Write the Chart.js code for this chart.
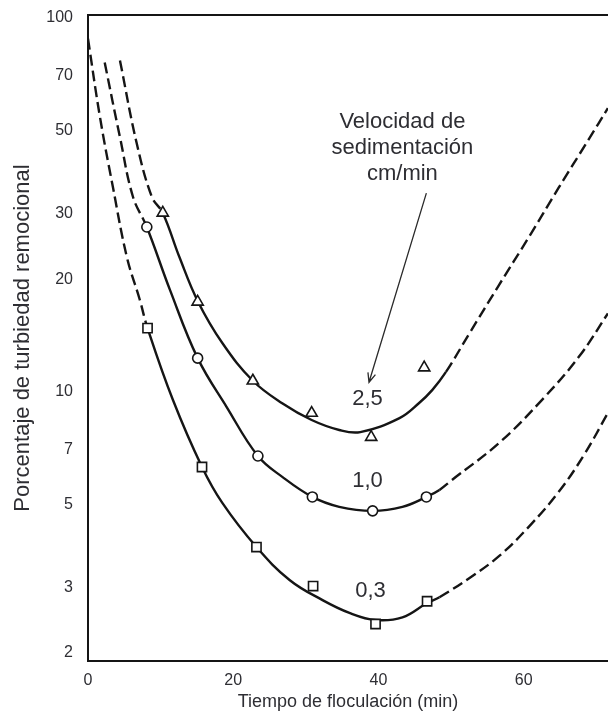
<!DOCTYPE html>
<html>
<head>
<meta charset="utf-8">
<script src="https://cdn.jsdelivr.net/npm/chart.js@4.4.0/dist/chart.umd.min.js"></script>
<style>
  html, body { margin: 0; padding: 0; background: #fff; overflow: hidden; }
  #wrap { width: 616px; height: 714px; }
</style>
</head>
<body>
<div id="wrap"><canvas id="floc" width="616" height="714"></canvas></div>
<script>
// Labels and ticks
const speedLabels = ['2,5', '1,0', '0,3'];
const noteLines = ['Velocidad de', 'sedimentación', 'cm/min'];
const xTickValues = [0, 20, 40, 60];
const yTickValues = [2, 3, 5, 7, 10, 20, 30, 50, 70, 100];

// Fitted curves (time in min, % turbidity)
const curve25X = [4.4, 6.7, 8.8, 10.3, 12.6, 15.1, 18.5, 22.7, 26.8, 30.8, 34.6, 37.5, 42.9, 45.6, 47.4, 49.3, 52.5, 56.6, 60.7, 64.8, 69.0, 71.6, 72.5];
const curve25Y = [77, 46.3, 33.2, 30.1, 22.9, 17.5, 13.5, 10.7, 9.3, 8.4, 7.9, 7.8, 8.5, 9.33, 10.1, 11.3, 14.3, 19.3, 25.9, 35.1, 47.5, 57.4, 61.2];
const curve10X = [2.3, 4.4, 6.2, 8.1, 11.3, 15.1, 19.1, 23.4, 26.8, 30.9, 34.6, 39.2, 43.3, 46.6, 48.4, 50.1, 56.6, 62.5, 67.6, 71.6, 72.5];
const curve10Y = [76, 48, 33.2, 27.6, 18.7, 12.3, 9.1, 6.73, 5.91, 5.23, 4.92, 4.80, 4.92, 5.23, 5.46, 5.80, 7.29, 9.50, 12.4, 16.2, 17.2];
const curve03X = [0, 1.65, 3.43, 5.36, 7.14, 8.2, 11.7, 15.7, 18.5, 23.2, 27.8, 32.3, 36.0, 39.6, 43.3, 46.7, 48.4, 52.5, 56.6, 60.7, 64.8, 68.3, 71.6, 72.5];
const curve03Y = [88, 54.3, 35.3, 22.9, 17.6, 14.8, 9.5, 6.29, 5.04, 3.84, 3.13, 2.77, 2.56, 2.45, 2.49, 2.72, 2.82, 3.17, 3.63, 4.35, 5.39, 6.77, 8.77, 9.39];

// Part of each curve drawn solid (min); the rest is dashed
const solid25 = [10.3, 49.3];
const solid10 = [8.1, 48.4];
const solid03 = [8.2, 48.4];

// Measured points
const tri25X = [10.3, 15.1, 22.7, 30.8, 39.0, 46.3];
const tri25Y = [30.1, 17.4, 10.7, 8.77, 7.56, 11.6];
const circ10X = [8.1, 15.1, 23.4, 30.9, 39.2, 46.6];
const circ10Y = [27.6, 12.3, 6.73, 5.23, 4.80, 5.23];
const sq03X = [8.2, 15.7, 23.2, 31.0, 39.6, 46.7];
const sq03Y = [14.8, 6.29, 3.84, 3.02, 2.39, 2.75];

const INK = '#151515';
const TEXT = '#2e2e33';
const FONT = '"Liberation Sans", Arial, sans-serif';

function toPoints(xs, ys) {
    return xs.map((x, i) => ({ x: x, y: ys[i] }));
}

function curve(xs, ys, range) {
    return {
        type: 'line',
        data: toPoints(xs, ys),
        borderColor: INK,
        borderWidth: 2.4,
        pointRadius: 0,
        tension: 0.4,
        order: 2,
        segment: {
            borderDash: ctx => (ctx.p0.parsed.x >= range[0] && ctx.p1.parsed.x <= range[1]) ? [] : [11, 5],
        },
    };
}

function markers(xs, ys, style, radius) {
    return {
        type: 'scatter',
        data: toPoints(xs, ys),
        showLine: false,
        pointStyle: style,
        pointRadius: radius,
        pointBackgroundColor: '#fff',
        pointBorderColor: INK,
        pointBorderWidth: 1.6,
        order: 1,
    };
}

// Curve labels, note text and arrow
const notes = {
    id: 'notes',
    afterDatasetsDraw(chart) {
        const { ctx, scales: { x, y } } = chart;
        ctx.save();
        ctx.fillStyle = TEXT;
        ctx.textAlign = 'center';
        ctx.textBaseline = 'alphabetic';
        ctx.font = '22px ' + FONT;
        const spots = [[38.5, 9.21], [38.5, 5.56], [38.9, 2.82]];
        speedLabels.forEach((t, i) => {
            ctx.fillText(t, x.getPixelForValue(spots[i][0]), y.getPixelForValue(spots[i][1]));
        });

        const nx = x.getPixelForValue(43.3);
        const ny = y.getPixelForValue(50.8);
        noteLines.forEach((t, i) => ctx.fillText(t, nx, ny + i * 26));

        // arrow
        const x0 = x.getPixelForValue(46.6), y0 = y.getPixelForValue(34.0);
        const x1 = x.getPixelForValue(38.7), y1 = y.getPixelForValue(10.6);
        ctx.strokeStyle = '#2a2a2a';
        ctx.lineWidth = 1.3;
        ctx.beginPath();
        ctx.moveTo(x0, y0);
        ctx.lineTo(x1, y1);
        const ang = Math.atan2(y1 - y0, x1 - x0);
        const len = 10;
        ctx.moveTo(x1 - len * Math.cos(ang - 0.4), y1 - len * Math.sin(ang - 0.4));
        ctx.lineTo(x1, y1);
        ctx.lineTo(x1 - len * Math.cos(ang + 0.4), y1 - len * Math.sin(ang + 0.4));
        ctx.stroke();
        ctx.restore();
    },
};

Chart.defaults.font.family = FONT;
Chart.defaults.color = TEXT;

new Chart(document.getElementById('floc'), {
    data: {
        datasets: [
            markers(tri25X, tri25Y, 'triangle', 6.5),
            markers(circ10X, circ10Y, 'circle', 5),
            markers(sq03X, sq03Y, 'rect', 6.5),
            curve(curve25X, curve25Y, solid25),
            curve(curve10X, curve10Y, solid10),
            curve(curve03X, curve03Y, solid03),
        ],
    },
    options: {
        responsive: false,
        animation: false,
        layout: { padding: { top: 15, right: 0, left: 0, bottom: 0 } },
        plugins: {
            legend: { display: false },
            tooltip: { enabled: false },
        },
        scales: {
            x: {
                type: 'linear',
                position: 'bottom',
                min: 0,
                max: 71.6,
                afterBuildTicks: scale => { scale.ticks = xTickValues.map(v => ({ value: v })); },
                afterFit: scale => { scale.height = 53; },
                grid: { display: false, drawTicks: false },
                border: { display: true, color: INK, width: 2 },
                ticks: { padding: 10, font: { size: 16 }, color: TEXT },
                title: {
                    display: true,
                    text: 'Tiempo de floculación (min)',
                    font: { size: 18 },
                    color: TEXT,
                    padding: { top: 0, bottom: 1 },
                },
            },
            xTop: {
                type: 'linear',
                position: 'top',
                min: 0,
                max: 71.6,
                afterFit: scale => { scale.height = 0; },
                grid: { display: false, drawTicks: false },
                border: { display: true, color: INK, width: 2 },
                ticks: { display: false },
            },
            y: {
                type: 'logarithmic',
                min: 1.903,
                max: 101.9,
                afterBuildTicks: scale => { scale.ticks = yTickValues.map(v => ({ value: v })); },
                afterFit: scale => {
                    scale.width = 88;
                    scale.paddingTop = 0;
                    scale.paddingBottom = 0;
                },
                grid: { display: false, drawTicks: false },
                border: { display: true, color: INK, width: 2 },
                ticks: {
                    padding: 15,
                    font: { size: 16 },
                    color: TEXT,
                    callback: v => String(v),
                },
                title: {
                    display: true,
                    text: 'Porcentaje de turbiedad remocional',
                    font: { size: 22 },
                    color: TEXT,
                    padding: { top: 10, bottom: 0 },
                },
            },
        },
    },
    plugins: [notes],
});
</script>
</body>
</html>
